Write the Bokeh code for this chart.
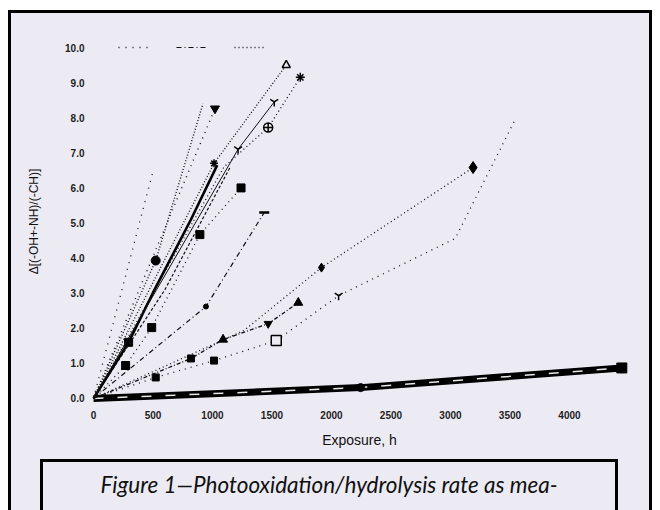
from bokeh.plotting import figure
from bokeh.models import Range1d, Legend, LegendItem, FixedTicker, Div
from bokeh.layouts import column
from bokeh.embed import file_html
from bokeh.resources import INLINE

# ---- data ----
x_ticks = [0, 500, 1000, 1500, 2000, 2500, 3000, 3500, 4000]
x_tick_labels = ["0", "500", "1000", "1500", "2000", "2500", "3000", "3500", "4000"]
y_ticks = [0, 1, 2, 3, 4, 5, 6, 7, 8, 9, 10]
y_tick_labels = ["0.0", "1.0", "2.0", "3.0", "4.0", "5.0", "6.0", "7.0", "8.0", "9.0", "10.0"]

thick_x = [0, 295, 498, 819, 1040]
thick_y = [0, 1.6, 3.0, 5.1, 6.65]
a_x = [0, 1013, 1620]
a_y = [0, 6.7, 9.5]
l_x = [0, 1215, 1519]
l_y = [0, 7.1, 8.45]
e_x = [0, 1097, 1468, 1738]
e_y = [0, 6.6, 7.72, 9.15]
sq_x = [0, 270, 489, 894, 1240]
sq_y = [0, 0.94, 2.02, 4.67, 6.0]
t_x = [0, 945, 1435]
t_y = [0, 2.62, 5.3]
steep_x = [0, 506]
steep_y = [0, 6.55]
circ_x = [0, 523, 920]
circ_y = [0, 3.93, 8.4]
club_x = [0, 1021]
club_y = [0, 8.26]
dia_x = [0, 1266, 1916, 3190]
dia_y = [0, 1.94, 3.73, 6.58]
box_x = [0, 523, 1013, 1536, 2060, 3040, 3544]
box_y = [0, 0.6, 1.08, 1.65, 2.93, 4.56, 7.95]
tri_x = [0, 819, 1089, 1468, 1721]
tri_y = [0, 1.14, 1.68, 2.13, 2.73]
mid_x = [0, 600, 1150]
mid_y = [0, 3.1, 6.6]
base_x = [0, 2245, 4440]
base_y = [0, 0.31, 0.87]

caption = "Figure 1—Photooxidation/hydrolysis rate as mea-"

BG = "#ecebf4"
INK = "#111111"

p = figure(width=638, height=445,
           x_range=Range1d(-42, 4513), y_range=Range1d(-0.114, 10.2),
           output_backend="svg", toolbar_location=None,
           min_border_left=77, min_border_right=19,
           min_border_top=27, min_border_bottom=56,
           margin=(3, 3, 0, 3), styles={"background-color": BG})
p.background_fill_color = BG
p.border_fill_color = BG
p.outline_line_color = None
p.grid.grid_line_color = None

p.xaxis.ticker = FixedTicker(ticks=x_ticks)
p.xaxis.major_label_overrides = dict(zip(x_ticks, x_tick_labels))
p.yaxis.ticker = FixedTicker(ticks=y_ticks)
p.yaxis.major_label_overrides = dict(zip(y_ticks, y_tick_labels))
for ax in (p.xaxis, p.yaxis):
    ax.axis_line_color = None
    ax.major_tick_line_color = None
    ax.minor_tick_line_color = None
    ax.major_tick_out = 0
    ax.major_tick_in = 0
    ax.major_label_text_font = "Liberation Sans"
    ax.major_label_text_font_style = "bold"
    ax.major_label_text_font_size = "10px"
    ax.major_label_text_color = "#222222"
    ax.axis_label_text_font = "Liberation Sans"
    ax.axis_label_text_font_style = "normal"
    ax.axis_label_text_color = INK
p.xaxis.major_label_standoff = 8
p.yaxis.major_label_standoff = 4
p.xaxis.axis_label = "Exposure, h"
p.xaxis.axis_label_text_font_size = "14px"
p.xaxis.axis_label_standoff = 10
p.yaxis.axis_label = "Δ[(-OH+-NH)/(-CH)]"
p.yaxis.axis_label_text_font_size = "12px"
p.yaxis.axis_label_standoff = 21

# ---- series ----
p.line(base_x, base_y, line_color="black", line_width=7)
p.line(base_x, base_y, line_color="#e8e8e8", line_width=1.5, line_dash="10 14")
p.scatter(base_x[1:2], base_y[1:2], marker="circle", size=8, color="black")
p.scatter(base_x[-1:], base_y[-1:], marker="square", size=10, color="black")

p.line(thick_x, thick_y, line_color="black", line_width=2.6)
p.scatter(thick_x[1:2], thick_y[1:2], marker="square", size=8, color="black")

p.line(a_x, a_y, line_color=INK, line_width=1.3, line_dash="1 2")
p.scatter(a_x[-1:], a_y[-1:], marker="triangle", size=8, line_color="black",
          fill_color=BG, line_width=1.5)
p.scatter(a_x[1:2], a_y[1:2], marker="asterisk", size=8, line_color="black", line_width=1.5)

p.line(l_x, l_y, line_color=INK, line_width=1)
p.scatter(l_x[1:], l_y[1:], marker="y", size=9, line_color="black", line_width=1.5)

p.line(e_x, e_y, line_color=INK, line_width=1.3, line_dash="1 3")
p.scatter(e_x[2:3], e_y[2:3], marker="circle_cross", size=9, line_color="black",
          fill_color=BG, line_width=1.5)
p.scatter(e_x[-1:], e_y[-1:], marker="asterisk", size=9, line_color="black", line_width=1.5)

p.line(mid_x, mid_y, line_color=INK, line_width=1.2, line_dash="3 2")

p.line(sq_x, sq_y, line_color=INK, line_width=1.3, line_dash="1 4")
p.scatter(sq_x[1:], sq_y[1:], marker="square", size=8, color="black")

tline = p.line(t_x, t_y, line_color=INK, line_width=1.2, line_dash="5 3 1 3")
p.scatter(t_x[1:2], t_y[1:2], marker="circle", size=5, color="black")
p.scatter(t_x[-1:], t_y[-1:], marker="dash", size=10, line_color="black", line_width=2.5)

steep = p.line(steep_x, steep_y, line_color=INK, line_width=1.3, line_dash="1 6")

p.line(circ_x, circ_y, line_color=INK, line_width=1.4, line_dash="1 2")
p.scatter(circ_x[1:2], circ_y[1:2], marker="circle", size=9, color="black")

p.line(club_x, club_y, line_color=INK, line_width=1.4, line_dash="1 5")
p.scatter(club_x[-1:], club_y[-1:], marker="inverted_triangle", size=9, color="black")

dline = p.line(dia_x, dia_y, line_color=INK, line_width=1.3, line_dash="1 3")
p.scatter(dia_x[2:3], dia_y[2:3], marker="diamond", size=9, color="black")
p.scatter(dia_x[-1:], dia_y[-1:], marker="diamond", size=12, color="black")

p.line(box_x, box_y, line_color=INK, line_width=1.3, line_dash="1 5")
p.scatter(box_x[1:3], box_y[1:3], marker="square", size=7, color="black")
p.scatter(box_x[3:4], box_y[3:4], marker="square", size=10, line_color="black",
          fill_color=BG, line_width=1.5)
p.scatter(box_x[4:5], box_y[4:5], marker="y", size=9, line_color="black", line_width=1.5)

p.line(tri_x, tri_y, line_color=INK, line_width=1.3, line_dash="4 2 1 2")
p.scatter(tri_x[1:2], tri_y[1:2], marker="square", size=7, color="black")
p.scatter([tri_x[2], tri_x[4]], [tri_y[2], tri_y[4]], marker="triangle", size=9, color="black")
p.scatter(tri_x[3:4], tri_y[3:4], marker="inverted_triangle", size=8, color="black")

# ---- legend stub at top ----
legend = Legend(items=[LegendItem(label=" ", renderers=[steep]),
                       LegendItem(label=" ", renderers=[tline]),
                       LegendItem(label=" ", renderers=[dline])],
                orientation="horizontal", location=(30, 351),
                glyph_width=32, glyph_height=8, label_width=0, label_height=8,
                label_standoff=0, spacing=26, padding=0, margin=0,
                background_fill_alpha=0, border_line_color=None,
                label_text_font_size="8px")
p.add_layout(legend, "center")

# ---- caption box (outer side borders drawn inside the Div) ----
cap = Div(text=('<div style="width:644px;height:60px;box-sizing:border-box;'
                'border-left:3px solid black;border-right:3px solid black;'
                'background-color:' + BG + ';padding-top:1px;">'
                '<div style="margin-left:29px;width:578px;height:70px;'
                'border:3px solid black;border-bottom:none;box-sizing:border-box;'
                'text-align:center;font-family:Lato;font-style:italic;font-size:22.5px;'
                'line-height:27px;color:#111;padding-top:9px;white-space:nowrap;">'
                + caption + '</div></div>'),
          width=644, height=52, margin=0,
          styles={"overflow": "hidden", "background-color": BG})

page = column(p, cap, spacing=0, margin=(10, 0, 0, 8),
              styles={"background-color": "black"})

open("out.html", "w").write(file_html(page, INLINE))
